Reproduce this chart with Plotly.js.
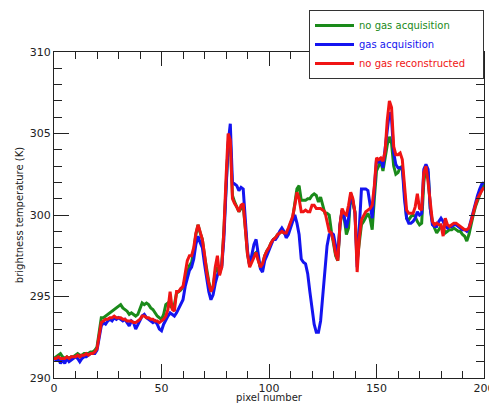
<!DOCTYPE html>
<html>
<head>
<meta charset="utf-8">
<script src="https://cdn.plot.ly/plotly-3.0.1.min.js"></script>
<style>html,body{margin:0;padding:0;background:#fff;}#chart{width:489px;height:403px;}</style>
</head>
<body>
<div id="chart"></div>
<script>
// pixel numbers 0..200
const pixels = Array.from({length: 201}, (_, i) => i);

const noGasAcq = [
291.2,291.3,291.4,291.5,291.3,291.2,291.3,291.2,291.3,291.3,
291.4,291.5,291.4,291.4,291.5,291.5,291.5,291.6,291.6,291.7,
291.9,292.8,293.7,293.7,293.8,293.9,294.0,294.1,294.2,294.3,
294.4,294.5,294.3,294.2,294.1,293.9,294.0,293.9,293.8,293.9,
294.2,294.6,294.5,294.6,294.5,294.3,294.2,294.0,293.8,293.7,
293.6,293.9,294.5,294.6,294.4,294.3,294.5,295.2,295.3,295.4,
295.6,296.0,296.5,296.9,297.1,297.8,298.8,299.4,298.9,298.5,
297.5,296.6,295.9,295.3,295.6,296.5,296.8,296.4,296.9,299.0,
302.0,304.3,304.7,301.2,300.8,300.5,300.2,300.4,300.6,299.2,
297.6,296.9,297.2,297.6,297.7,297.3,296.8,297.0,297.5,297.8,
298.0,298.3,298.5,298.6,298.8,298.9,299.0,298.9,298.8,299.0,
299.5,299.8,300.8,301.6,301.8,300.9,300.9,300.9,301.0,301.0,
301.2,301.3,301.2,300.8,301.1,300.6,300.1,300.1,300.0,299.0,
298.2,297.5,297.2,299.3,300.3,299.8,298.8,299.2,301.3,300.8,
300.2,297.2,298.5,299.4,299.6,299.9,300.1,299.8,299.1,301.0,
302.7,303.0,303.3,302.7,303.6,304.3,304.8,304.4,303.0,302.5,
302.6,302.9,303.0,301.5,299.8,299.7,299.9,300.0,299.9,299.6,
299.4,299.5,302.0,303.0,302.6,300.4,299.6,299.2,298.9,299.1,
299.3,299.2,298.9,299.0,299.1,299.1,299.2,299.1,299.0,299.0,
298.8,298.7,298.4,298.8,299.5,300.0,300.5,300.9,301.3,301.6,
301.9];

const gasAcq = [
291.2,291.1,291.2,290.9,291.1,290.9,291.2,291.0,291.1,291.2,
291.3,291.2,291.0,291.2,291.3,291.3,291.4,291.5,291.5,291.5,
291.7,292.4,293.2,293.4,293.3,293.5,293.6,293.5,293.7,293.6,
293.7,293.6,293.5,293.6,293.4,293.2,293.5,293.4,293.0,293.3,
293.6,293.8,293.9,293.7,293.6,293.5,293.4,293.5,293.3,293.0,
292.9,293.3,293.6,293.8,294.0,293.9,293.8,294.0,294.3,294.6,
294.8,295.6,296.2,296.6,296.8,297.3,298.2,298.7,298.3,298.0,
297.0,296.0,295.3,294.8,295.1,295.8,296.3,296.6,296.8,298.5,
301.5,304.4,305.6,302.0,301.9,301.8,301.5,301.7,301.6,299.6,
297.8,296.9,297.5,298.2,298.5,297.6,296.7,296.5,297.2,297.5,
297.8,298.1,298.5,298.5,298.7,299.0,299.2,299.0,298.6,298.8,
299.2,299.6,300.0,299.5,298.8,297.3,297.1,297.0,296.4,295.3,
294.1,293.3,292.8,292.8,293.5,295.0,296.8,298.1,298.8,298.9,
298.8,298.0,297.4,299.4,300.3,299.9,299.2,299.8,301.3,300.9,
300.1,296.8,299.5,301.6,301.6,301.6,301.5,300.6,299.8,301.6,
303.4,303.2,303.5,302.9,303.9,305.2,306.3,305.9,303.8,303.1,
302.9,302.9,302.9,301.0,299.8,299.5,299.5,299.6,299.8,300.2,
300.0,300.1,302.8,303.1,302.8,300.4,299.4,299.3,299.3,299.6,
299.8,299.6,299.3,299.2,299.3,299.3,299.4,299.4,299.3,299.2,
299.1,299.1,299.0,299.2,299.7,300.3,300.7,301.2,301.6,301.9,
302.0];

const noGasRec = [
291.2,291.2,291.3,291.2,291.2,291.2,291.3,291.2,291.3,291.3,
291.3,291.4,291.3,291.4,291.4,291.5,291.4,291.5,291.5,291.6,
291.8,292.6,293.4,293.5,293.6,293.6,293.7,293.7,293.8,293.7,
293.7,293.7,293.6,293.6,293.5,293.5,293.5,293.4,293.4,293.5,
293.6,293.8,293.8,293.7,293.7,293.6,293.6,293.5,293.5,293.4,
293.5,293.6,293.8,294.2,295.3,294.2,294.1,295.3,295.3,295.5,
295.6,296.3,297.2,297.5,297.5,298.0,298.9,299.4,298.9,298.5,
297.6,296.5,295.8,295.3,295.6,296.8,297.5,296.3,296.8,299.0,
302.2,305.0,304.6,301.0,300.7,300.5,300.2,300.6,300.7,299.2,
297.6,296.8,297.1,297.5,297.7,297.2,296.8,297.0,297.5,297.8,
298.0,298.3,298.5,298.6,298.8,298.9,299.0,298.9,298.9,299.2,
299.5,299.9,300.6,301.4,301.0,300.2,300.2,300.3,300.2,300.2,
300.6,300.6,300.4,300.4,300.4,300.3,300.2,299.6,299.0,298.9,
298.4,297.6,297.2,299.4,300.4,300.1,300.0,300.6,301.4,301.0,
300.1,296.5,298.6,299.7,300.0,300.2,300.3,300.4,300.6,301.8,
303.5,303.4,303.5,303.3,303.9,305.8,307.0,306.6,304.2,303.7,
303.7,303.8,303.4,301.7,300.3,300.1,300.1,300.1,300.5,301.3,
300.4,300.3,302.6,303.0,302.0,300.6,299.6,299.4,299.5,299.4,
299.4,298.7,299.8,299.4,299.3,299.4,299.5,299.5,299.4,299.3,
299.2,299.1,299.1,299.2,299.6,300.2,300.6,301.0,301.3,301.5,
301.7];

const seriesNames = ['no gas acquisition', 'gas acquisition', 'no gas reconstructed'];
const seriesColors = ['#1a8a1a', '#1414f0', '#f01414'];
const seriesData = [noGasAcq, gasAcq, noGasRec];

const xRange = [0, 200];
const yRange = [290, 310];
const xTicks = [0, 50, 100, 150, 200];
const yTicks = [290, 295, 300, 305, 310];

const pad = '\u00a0\u00a0\u00a0\u00a0';
const traces = seriesData.map((vals, i) => ({
  x: pixels,
  y: vals,
  type: 'scatter',
  mode: 'lines',
  name: '<span style="color:' + seriesColors[i] + '">' + seriesNames[i] + pad + '</span>',
  line: {color: seriesColors[i], width: 3}
}));

const fontFam = 'DejaVu Sans, sans-serif';
const tickCol = '#222';
const layout = {
  width: 489,
  height: 403,
  margin: {l: 54, r: 5, t: 52, b: 25, pad: 0},
  paper_bgcolor: '#ffffff',
  plot_bgcolor: '#ffffff',
  font: {family: fontFam, size: 11, color: '#222'},
  showlegend: true,
  legend: {
    x: 1, xanchor: 'right',
    y: 1.129, yanchor: 'top',
    bgcolor: '#ffffff',
    bordercolor: '#333',
    borderwidth: 1,
    itemwidth: 39,
    font: {family: fontFam, size: 10},
    tracegroupgap: 0
  },
  xaxis: {
    range: xRange,
    tickvals: xTicks,
    ticks: 'inside',
    ticklen: 14,
    tickcolor: tickCol,
    tickwidth: 1,
    minor: {dtick: 10, ticks: 'inside', ticklen: 7, tickcolor: tickCol, tickwidth: 1, showgrid: false},
    showline: true,
    linecolor: tickCol,
    linewidth: 1,
    mirror: 'allticks',
    showgrid: false,
    zeroline: false,
    ticklabeloverflow: 'allow',
    tickfont: {family: fontFam, size: 11, color: '#222'},
    title: {text: 'pixel number', font: {family: fontFam, size: 10, color: '#222'}}
  },
  yaxis: {
    range: yRange,
    tickvals: yTicks,
    ticks: 'inside',
    ticklen: 15,
    tickcolor: tickCol,
    tickwidth: 1,
    minor: {dtick: 1, ticks: 'inside', ticklen: 8, tickcolor: tickCol, tickwidth: 1, showgrid: false},
    showline: true,
    linecolor: tickCol,
    linewidth: 1,
    mirror: 'allticks',
    showgrid: false,
    zeroline: false,
    tickfont: {family: fontFam, size: 11, color: '#222'},
    title: {text: 'brightness temperature (K)', font: {family: fontFam, size: 10, color: '#222'}, standoff: 4}
  }
};

Plotly.newPlot('chart', traces, layout, {staticPlot: true, displayModeBar: false});
</script>
</body>
</html>
